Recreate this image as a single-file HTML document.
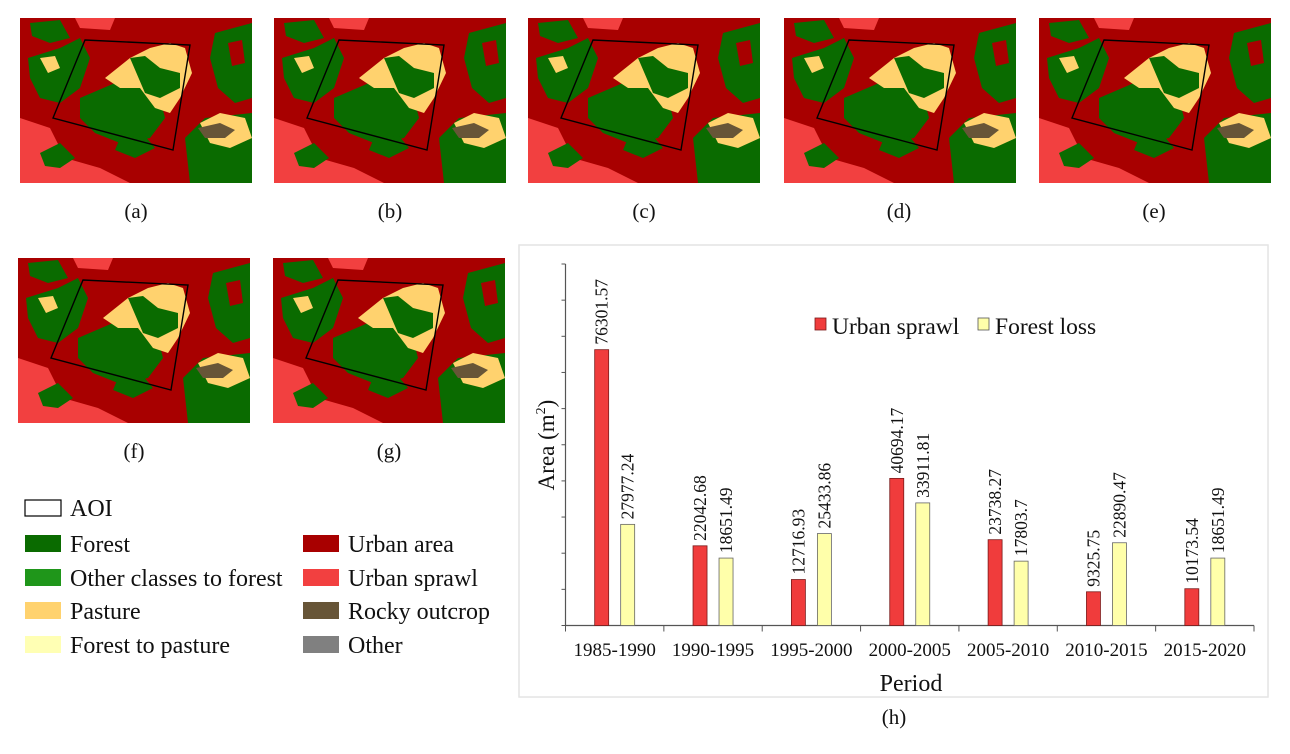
<!DOCTYPE html>
<html><head><meta charset="utf-8">
<style>
body{margin:0;width:1290px;height:754px;background:#fff;overflow:hidden;font-family:"Liberation Serif",serif;}
svg{position:absolute;left:0;top:0}
</style></head>
<body>
<svg width="1290" height="754" viewBox="0 0 1290 754">
<defs>
<g id="map">
<rect x="0" y="0" width="232" height="165" fill="#a80000"/>
<path d="M0,100 L30,110 L45,140 L80,150 L110,165 L0,165 Z" fill="#f24040"/>
<path d="M55,0 L95,0 L90,12 L60,10 Z" fill="#f24040"/>
<path d="M8,40 L40,30 L60,20 L70,40 L60,70 L40,85 L20,80 L10,60 Z" fill="#0a6b00"/>
<path d="M20,40 L35,38 L40,50 L28,55 Z" fill="#ffd26e"/>
<path d="M10,5 L40,2 L50,20 L30,25 L12,18 Z" fill="#0a6b00"/>
<path d="M60,80 L95,65 L120,65 L140,80 L145,100 L130,120 L100,125 L75,115 L60,100 Z" fill="#0a6b00"/>
<path d="M85,60 L110,40 L130,30 L150,25 L165,30 L172,55 L160,80 L150,95 L135,90 L120,70 L100,70 Z" fill="#ffd26e"/>
<path d="M110,40 L125,38 L140,50 L160,55 L160,70 L140,80 L125,75 Z" fill="#0a6b00"/>
<path d="M195,15 L232,5 L232,80 L215,85 L198,70 L190,40 Z" fill="#0a6b00"/>
<path d="M208,25 L222,22 L225,45 L212,48 Z" fill="#a80000"/>
<path d="M165,120 L185,100 L232,95 L232,165 L170,165 Z" fill="#0a6b00"/>
<path d="M180,105 L200,95 L225,100 L232,120 L210,130 L190,125 Z" fill="#ffd26e"/>
<path d="M178,110 L200,105 L215,112 L205,120 L185,120 Z" fill="#675537"/>
<path d="M20,135 L40,125 L55,140 L40,150 L25,148 Z" fill="#0a6b00"/>
<path d="M100,120 L125,118 L135,130 L115,140 L95,132 Z" fill="#0a6b00"/>
<path d="M65,22 L170,27 L153,132 L33,100 Z" fill="none" stroke="#000" stroke-width="1.4"/>
</g>
</defs>
<g><use href="#map" x="20" y="18"/></g>
<g><use href="#map" x="274" y="18"/></g>
<g><use href="#map" x="528" y="18"/></g>
<g><use href="#map" x="784" y="18"/></g>
<g><use href="#map" x="1039" y="18"/></g>
<g><use href="#map" x="18" y="258"/></g>
<g><use href="#map" x="273" y="258"/></g>
<g font-size="21" text-anchor="middle" fill="#111">
<text x="136" y="218">(a)</text>
<text x="390" y="218">(b)</text>
<text x="644" y="218">(c)</text>
<text x="899" y="218">(d)</text>
<text x="1154" y="218">(e)</text>
<text x="134" y="458">(f)</text>
<text x="389" y="458">(g)</text>
<text x="894" y="724">(h)</text>
</g>
<g font-size="24" fill="#111">
<rect x="25" y="500" width="36" height="16" fill="#fff" stroke="#000" stroke-width="1.2"/><text x="70" y="516">AOI</text>
<rect x="25" y="535" width="36" height="17" fill="#0a6b00"/><text x="70" y="552">Forest</text>
<rect x="25" y="569" width="36" height="17" fill="#1f961a"/><text x="70" y="586">Other classes to forest</text>
<rect x="25" y="602" width="36" height="17" fill="#ffd26e"/><text x="70" y="619">Pasture</text>
<rect x="25" y="636" width="36" height="17" fill="#ffffb4"/><text x="70" y="653">Forest to pasture</text>
<rect x="303" y="535" width="36" height="17" fill="#a80000"/><text x="348" y="552">Urban area</text>
<rect x="303" y="569" width="36" height="17" fill="#f24040"/><text x="348" y="586">Urban sprawl</text>
<rect x="303" y="602" width="36" height="17" fill="#675537"/><text x="348" y="619">Rocky outcrop</text>
<rect x="303" y="636" width="36" height="17" fill="#808080"/><text x="348" y="653">Other</text>
</g>
<rect x="519" y="245" width="749" height="452" fill="#fff" stroke="#e4e4e4" stroke-width="1.5"/>
<g id="chart"></g>
</svg>
<script>
const categories=["1985-1990","1990-1995","1995-2000","2000-2005","2005-2010","2010-2015","2015-2020"];
const urbanSprawl=[76301.57,22042.68,12716.93,40694.17,23738.27,9325.75,10173.54];
const forestLoss=[27977.24,18651.49,25433.86,33911.81,17803.7,22890.47,18651.49];
const urbanLabels=["76301.57","22042.68","12716.93","40694.17","23738.27","9325.75","10173.54"];
const forestLabels=["27977.24","18651.49","25433.86","33911.81","17803.7","22890.47","18651.49"];
const yTicks=[0,10000,20000,30000,40000,50000,60000,70000,80000,90000,100000];
const NS="http://www.w3.org/2000/svg";
const g=document.getElementById('chart');
const X0=565.5,X1=1254,Y0=625.5,Y1=264,YMAX=100000;
const bw=(X1-X0)/categories.length;
function y(v){return Y0-(v/YMAX)*(Y0-Y1);}
function x(i){return X0+bw*(i+0.5);}
function mk(t,a,parent){const e=document.createElementNS(NS,t);for(const k in a)e.setAttribute(k,a[k]);(parent||g).appendChild(e);return e;}
let e=mk('line',{x1:X0,y1:Y1,x2:X0,y2:Y0,stroke:'#555','stroke-width':1.2});


e=mk('line',{x1:X0,y1:Y0,x2:X1,y2:Y0,stroke:'#555','stroke-width':1.2});


yTicks.forEach(t=>{const l=mk('line',{x1:X0-4,y1:y(t),x2:X0,y2:y(t),stroke:'#555','stroke-width':1});

});
for(let i=0;i<=categories.length;i++){const l=mk('line',{x1:X0+bw*i,y1:Y0,x2:X0+bw*i,y2:Y0+6,stroke:'#555','stroke-width':1});

}
categories.forEach((c,i)=>{
  const cx=x(i);
  const r=mk('rect',{x:cx-20,y:y(urbanSprawl[i]),width:14,height:Y0-y(urbanSprawl[i]),fill:'#f03c3c',stroke:'#7a1a1a','stroke-width':0.8});
  
  
  const f=mk('rect',{x:cx+6,y:y(forestLoss[i]),width:14,height:Y0-y(forestLoss[i]),fill:'#ffffaa',stroke:'#666','stroke-width':0.8});
  
  
  [[cx-13,urbanSprawl[i],urbanLabels[i]],[cx+13,forestLoss[i],forestLabels[i]]].forEach(([lx,v,s])=>{
    const t=mk('text',{x:0,y:0,transform:`translate(${lx+6},${y(v)-5}) rotate(-90)`,'font-size':'17.5px',fill:'#111','font-family':'Liberation Serif, serif'});
    t.textContent=s;
    
    
  });
  const xl=mk('text',{x:cx,y:656,'text-anchor':'middle','font-size':'19px',fill:'#111','font-family':'Liberation Serif, serif'});
  xl.textContent=c;
  
  
});
e=mk('text',{x:911,y:691,'text-anchor':'middle','font-size':'24px',fill:'#111'});
e.textContent='Period';


e=mk('text',{x:0,y:0,transform:'translate(554,445) rotate(-90)','text-anchor':'middle','font-size':'23px',fill:'#111'});
e.innerHTML='Area (m<tspan font-size="14" dy="-9">2</tspan><tspan dy="9">)</tspan>';


const lg=mk('g',{});


mk('rect',{x:815,y:318,width:11,height:12,fill:'#f03c3c',stroke:'#7a1a1a','stroke-width':0.8},lg);
e=mk('text',{x:832,y:334,'font-size':'23.5px',fill:'#111'},lg);e.textContent='Urban sprawl';


mk('rect',{x:978,y:318,width:11,height:12,fill:'#ffffaa',stroke:'#555','stroke-width':0.8},lg);
e=mk('text',{x:995,y:334,'font-size':'23.5px',fill:'#111'},lg);e.textContent='Forest loss';


</script>
</body></html>
